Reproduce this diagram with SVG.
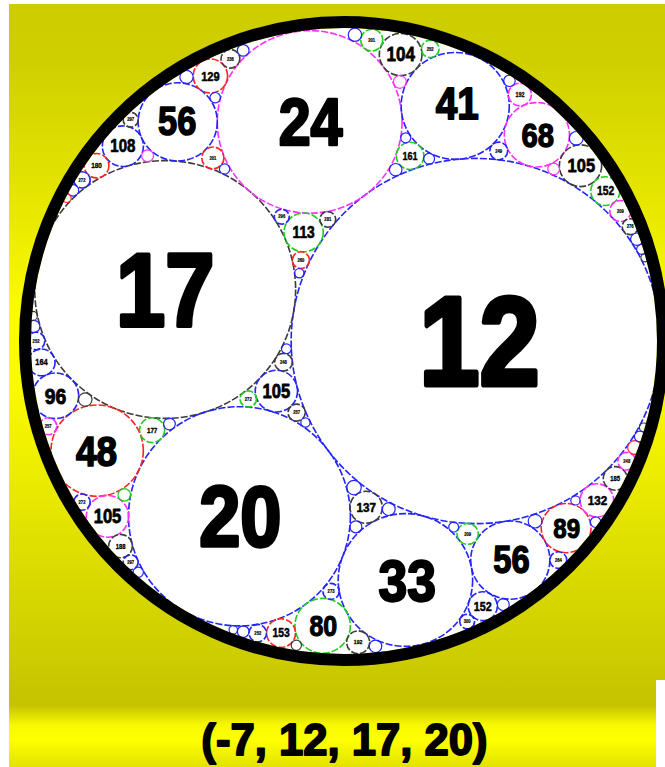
<svg xmlns="http://www.w3.org/2000/svg" width="665" height="767" viewBox="0 0 665 767">
<defs>
<linearGradient id="bg" x1="0" y1="0" x2="0" y2="767" gradientUnits="userSpaceOnUse">
<stop offset="0" stop-color="#cccc00"/>
<stop offset="0.078" stop-color="#cfcf00"/>
<stop offset="0.261" stop-color="#e6e600"/>
<stop offset="0.417" stop-color="#fdfd00"/>
<stop offset="0.495" stop-color="#fbfb00"/>
<stop offset="0.626" stop-color="#ebeb00"/>
<stop offset="0.756" stop-color="#d9d900"/>
<stop offset="0.861" stop-color="#cccc00"/>
<stop offset="0.919" stop-color="#c5c200"/>
<stop offset="0.945" stop-color="#f8f800"/>
<stop offset="0.965" stop-color="#ffff00"/>
<stop offset="1" stop-color="#e2e200"/>
</linearGradient>
<style>
.c{fill:none;stroke-width:1.6;stroke-dasharray:7 2}
.s{fill:none;stroke-width:1.2}
.b{stroke:#2424ff}.k{stroke:#3c3c3c}.m{stroke:#ff30ff}.r{stroke:#ff2424}.g{stroke:#1fcc1f}
text{font-family:"Liberation Sans",Arial,sans-serif;font-weight:700;text-anchor:middle;fill:#000;stroke:#000;stroke-linejoin:round}
</style>
</defs>
<rect x="0" y="0" width="665" height="767" fill="#fff"/>
<rect x="9" y="4" width="656" height="763" fill="url(#bg)"/>
<rect x="656" y="680" width="9" height="87" fill="#fff"/>
<circle cx="344" cy="341" r="313" fill="#fff"/>
<g id="gasket" transform="matrix(1.012 0 0 1 -4.128 0)">
<g id="n12"><circle class="c b" cx="474.4" cy="341" r="182.6"/><text transform="translate(478 385) scale(0.85 1)" font-size="126" stroke-width="5">12</text></g>
<g id="n17"><circle class="c k" cx="167.3" cy="289.5" r="128.9"/><text transform="translate(167.3 325.6) scale(0.85 1)" font-size="103" stroke-width="4">17</text></g>
<g id="n20"><circle class="c b" cx="240.7" cy="516.3" r="109.6"/><text transform="translate(241.5 546.1) scale(0.86 1)" font-size="85" stroke-width="3.4">20</text></g>
<g id="n24"><circle class="c m" cx="310.1" cy="121.9" r="91.3"/><text transform="translate(311 144.5) scale(0.86 1)" font-size="66" stroke-width="2.6">24</text></g>
<g id="n33"><circle class="c b" cx="404.7" cy="580" r="66.4"/><text transform="translate(406.5 600.5) scale(0.88 1)" font-size="58" stroke-width="2.3">33</text></g>
<g id="n48"><circle class="c r" cx="100.1" cy="450.6" r="45.6"/><text transform="translate(99.5 465.6) scale(0.85 1)" font-size="43" stroke-width="1.7">48</text></g>
<g id="n105c"><circle class="c b" cx="277.2" cy="391.1" r="20.9"/><text transform="translate(277.2 397.8) scale(0.85 1)" font-size="19.3" stroke-width="0.75">105</text></g>
<g id="n41"><circle class="c b" cx="453.9" cy="105.9" r="53.4"/><text transform="translate(456 118.8) scale(0.85 1)" font-size="45" stroke-width="1.8">41</text></g>
<g id="n56a"><circle class="c b" cx="179.7" cy="121.9" r="39.1"/><text transform="translate(179.2 135) scale(0.85 1)" font-size="40" stroke-width="1.6">56</text></g>
<g id="n113"><circle class="c g" cx="304.1" cy="232.4" r="19.4"/><text transform="translate(304.1 238) scale(0.85 1)" font-size="16" stroke-width="0.65">113</text></g>
<g id="n56b"><circle class="c b" cx="508.3" cy="560.1" r="39.1"/><text transform="translate(509.5 573.4) scale(0.85 1)" font-size="38" stroke-width="1.5">56</text></g>
<g id="n80"><circle class="c g" cx="322.9" cy="625.8" r="27.4"/><text transform="translate(323.5 636) scale(0.85 1)" font-size="29" stroke-width="1.15">80</text></g>
<g id="n137"><circle class="c k" cx="365.9" cy="507.3" r="16"/><text transform="translate(365.9 512.1) scale(0.85 1)" font-size="13.6" stroke-width="0.55">137</text></g>
<g id="n96"><circle class="c b" cx="59" cy="395.8" r="22.8"/><text transform="translate(59 403.7) scale(0.85 1)" font-size="22.5" stroke-width="0.9">96</text></g>
<g id="n105L"><circle class="c m" cx="110.3" cy="516.3" r="20.9"/><text transform="translate(110.3 523.1) scale(0.85 1)" font-size="19.3" stroke-width="0.75">105</text></g>
<g id="n177"><circle class="c g" cx="154.4" cy="430.1" r="12.4"/><text transform="translate(154.4 432.7) scale(0.85 1)" font-size="7.3" stroke-width="0.3">177</text></g>
<g id="n248c"><circle class="c k" cx="284.2" cy="362.2" r="8.8"/><text transform="translate(284.2 363.9) scale(0.85 1)" font-size="4.8" stroke-width="0.2">248</text></g>
<g id="n257c"><circle class="c k" cx="297.2" cy="412.6" r="8.5"/><text transform="translate(297.2 414.3) scale(0.85 1)" font-size="4.8" stroke-width="0.2">257</text></g>
<g id="n272c"><circle class="c g" cx="249.4" cy="399" r="8.1"/><text transform="translate(249.4 400.7) scale(0.85 1)" font-size="4.8" stroke-width="0.2">272</text></g>
<g id="n68"><circle class="c m" cx="534.6" cy="134.8" r="32.2"/><text transform="translate(535.5 146.7) scale(0.85 1)" font-size="34" stroke-width="1.35">68</text></g>
<g id="n104"><circle class="c k" cx="400" cy="54.5" r="21.1"/><text transform="translate(400 61.4) scale(0.85 1)" font-size="19.8" stroke-width="0.75">104</text></g>
<g id="n161"><circle class="c g" cx="409.3" cy="155.9" r="13.6"/><text transform="translate(409.3 159.6) scale(0.85 1)" font-size="10.5" stroke-width="0.4">161</text></g>
<g id="n108"><circle class="c b" cx="125.5" cy="146.2" r="20.3"/><text transform="translate(125.5 152.3) scale(0.85 1)" font-size="17.5" stroke-width="0.7">108</text></g>
<g id="n129"><circle class="c r" cx="212" cy="76" r="17"/><text transform="translate(212 80.5) scale(0.85 1)" font-size="12.9" stroke-width="0.5">129</text></g>
<g id="n201x"><circle class="c r" cx="214.4" cy="157.9" r="10.9"/><text transform="translate(214.4 159.6) scale(0.85 1)" font-size="4.8" stroke-width="0.2">201</text></g>
<g id="n260"><circle class="c r" cx="301.4" cy="260.1" r="8.4"/><text transform="translate(301.4 261.8) scale(0.85 1)" font-size="4.8" stroke-width="0.2">260</text></g>
<g id="n281"><circle class="c k" cx="328" cy="219.4" r="7.8"/><text transform="translate(328 221.1) scale(0.85 1)" font-size="4.8" stroke-width="0.2">281</text></g>
<g id="n296"><circle class="c b" cx="282.5" cy="216.7" r="7.4"/><text transform="translate(282.5 218.4) scale(0.85 1)" font-size="4.8" stroke-width="0.2">296</text></g>
<g id="n89"><circle class="c r" cx="563.5" cy="528.1" r="24.6"/><text transform="translate(564 537.9) scale(0.85 1)" font-size="28" stroke-width="1.1">89</text></g>
<g id="n152b"><circle class="c b" cx="481.1" cy="606.2" r="14.4"/><text transform="translate(481.1 610.6) scale(0.85 1)" font-size="12.5" stroke-width="0.5">152</text></g>
<g id="n209b"><circle class="c g" cx="466.2" cy="533.9" r="10.5"/><text transform="translate(466.2 535.6) scale(0.85 1)" font-size="4.8" stroke-width="0.2">209</text></g>
<g id="n153"><circle class="c r" cx="281.8" cy="633.1" r="14.3"/><text transform="translate(281.8 637.3) scale(0.85 1)" font-size="12" stroke-width="0.5">153</text></g>
<g id="n192b"><circle class="c k" cx="358" cy="642.3" r="11.4"/><text transform="translate(358 644.4) scale(0.85 1)" font-size="6" stroke-width="0.25">192</text></g>
<g id="n273"><circle class="c b" cx="331.2" cy="591.4" r="8"/><text transform="translate(331.2 593.1) scale(0.85 1)" font-size="4.8" stroke-width="0.2">273</text></g>
<g id="n164"><circle class="c b" cx="45.1" cy="362.4" r="13.4"/><text transform="translate(45.1 365.4) scale(0.85 1)" font-size="8.7" stroke-width="0.35">164</text></g>
<g id="n257L"><circle class="c m" cx="51.7" cy="426.3" r="8.5"/><text transform="translate(51.7 428) scale(0.85 1)" font-size="4.8" stroke-width="0.2">257</text></g>
<g id="n188"><circle class="c k" cx="123.2" cy="546.1" r="11.7"/><text transform="translate(123.2 548.5) scale(0.85 1)" font-size="6.8" stroke-width="0.3">188</text></g>
<g id="n272L"><circle class="c b" cx="85.1" cy="502.1" r="8.1"/><text transform="translate(85.1 503.8) scale(0.85 1)" font-size="4.8" stroke-width="0.2">272</text></g>
<g id="n105t"><circle class="c k" cx="577.7" cy="165.7" r="20.9"/><text transform="translate(578.5 172.4) scale(0.85 1)" font-size="19.1" stroke-width="0.75">105</text></g>
<g id="n192t"><circle class="c m" cx="517.8" cy="94.5" r="11.4"/><text transform="translate(517.8 96.7) scale(0.85 1)" font-size="6.3" stroke-width="0.25">192</text></g>
<g id="n249"><circle class="c b" cx="496.9" cy="150.9" r="8.8"/><text transform="translate(496.9 152.6) scale(0.85 1)" font-size="4.8" stroke-width="0.2">249</text></g>
<g id="n201s"><circle class="c g" cx="371.4" cy="40.1" r="10.9"/><text transform="translate(371.4 41.8) scale(0.85 1)" font-size="4.8" stroke-width="0.2">201</text></g>
<g id="n252t"><circle class="c g" cx="429.2" cy="48.9" r="8.7"/><text transform="translate(429.2 50.6) scale(0.85 1)" font-size="4.8" stroke-width="0.2">252</text></g>
<g id="n180"><circle class="c r" cx="99.5" cy="165.7" r="12.2"/><text transform="translate(99.5 168.3) scale(0.85 1)" font-size="7.5" stroke-width="0.3">180</text></g>
<g id="n297a"><circle class="c k" cx="133.2" cy="119.7" r="7.4"/><text transform="translate(133.2 121.4) scale(0.85 1)" font-size="4.8" stroke-width="0.2">297</text></g>
<g id="n236"><circle class="c k" cx="231.8" cy="58.8" r="9.3"/><text transform="translate(231.8 60.5) scale(0.85 1)" font-size="4.8" stroke-width="0.2">236</text></g>
<g id="n132"><circle class="c m" cx="593.9" cy="500.4" r="16.6"/><text transform="translate(594.5 505.2) scale(0.85 1)" font-size="13.6" stroke-width="0.55">132</text></g>
<g id="n264"><circle class="c b" cx="555.8" cy="560.1" r="8.3"/><text transform="translate(555.8 561.8) scale(0.85 1)" font-size="4.8" stroke-width="0.2">264</text></g>
<g id="n300"><circle class="c b" cx="465.7" cy="621.5" r="7.3"/><text transform="translate(465.7 623.2) scale(0.85 1)" font-size="4.8" stroke-width="0.2">300</text></g>
<g id="n252b"><circle class="c b" cx="258.8" cy="633.1" r="8.7"/><text transform="translate(258.8 634.8) scale(0.85 1)" font-size="4.8" stroke-width="0.2">252</text></g>
<g id="n152r"><circle class="c g" cx="602.2" cy="191.1" r="14.4"/><text transform="translate(602.5 195.3) scale(0.85 1)" font-size="12" stroke-width="0.5">152</text></g>
<g id="n209r"><circle class="c m" cx="617.2" cy="211" r="10.5"/><text transform="translate(617.2 212.7) scale(0.85 1)" font-size="4.8" stroke-width="0.2">209</text></g>
<g id="n185"><circle class="c k" cx="612" cy="478.4" r="11.8"/><text transform="translate(612 480.8) scale(0.85 1)" font-size="6.8" stroke-width="0.3">185</text></g>
<g id="n248r"><circle class="c m" cx="623.4" cy="461.2" r="8.8"/><text transform="translate(623.4 462.9) scale(0.85 1)" font-size="4.8" stroke-width="0.2">248</text></g>
<g id="n276"><circle class="c k" cx="626.8" cy="226.7" r="7.9"/><text transform="translate(626.8 228.4) scale(0.85 1)" font-size="4.8" stroke-width="0.2">276</text></g>
<g id="n297L"><circle class="c b" cx="133.2" cy="562.3" r="7.4"/><text transform="translate(133.2 564) scale(0.85 1)" font-size="4.8" stroke-width="0.2">297</text></g>
<g id="n252L"><circle class="c b" cx="39.7" cy="341" r="8.7"/><text transform="translate(39.7 342.7) scale(0.85 1)" font-size="4.8" stroke-width="0.2">252</text></g>
<g id="n272a"><circle class="c b" cx="85.1" cy="179.9" r="8.1"/><text transform="translate(85.1 181.6) scale(0.85 1)" font-size="4.8" stroke-width="0.2">272</text></g>
<g id="n305"><circle class="s b" cx="353.9" cy="487.6" r="7.2"/></g>
<g id="n344"><circle class="s b" cx="388.2" cy="509.1" r="6.4"/></g>
<g id="n368"><circle class="s b" cx="355.7" cy="526.8" r="6"/></g>
<g id="n329"><circle class="s k" cx="88.3" cy="399.6" r="6.7"/></g>
<g id="n353L"><circle class="s g" cx="126.9" cy="494.9" r="6.2"/></g>
<g id="n380"><circle class="s b" cx="171.5" cy="424" r="5.8"/></g>
<g id="n320"><circle class="s b" cx="573.5" cy="138.3" r="6.8"/></g>
<g id="n377t"><circle class="s m" cx="551.2" cy="169" r="5.8"/></g>
<g id="n353r"><circle class="s b" cx="633.4" cy="239.2" r="6.2"/></g>
<g id="n440r"><circle class="s b" cx="638.1" cy="249.4" r="5"/></g>
<g id="n537r"><circle class="s k" cx="641.5" cy="257.8" r="4.1"/></g>
<g id="n345"><circle class="s m" cx="399.2" cy="81.9" r="6.4"/></g>
<g id="n332t"><circle class="s b" cx="354.8" cy="34.8" r="6.6"/></g>
<g id="n353t"><circle class="s b" cx="395.1" cy="169.7" r="6.2"/></g>
<g id="n404t"><circle class="s b" cx="428.1" cy="158.8" r="5.4"/></g>
<g id="n440t"><circle class="s b" cx="405" cy="137.8" r="5"/></g>
<g id="n369a"><circle class="s m" cx="149.9" cy="155.8" r="5.9"/></g>
<g id="n384a"><circle class="s b" cx="76.2" cy="190.4" r="5.7"/></g>
<g id="n516"><circle class="s r" cx="70.2" cy="198.3" r="4.2"/></g>
<g id="n332a"><circle class="s b" cx="188.4" cy="77" r="6.6"/></g>
<g id="n425"><circle class="s b" cx="216.7" cy="97.7" r="5.2"/></g>
<g id="n377a"><circle class="s b" cx="244.4" cy="50.4" r="5.8"/></g>
<g id="n428"><circle class="s b" cx="226" cy="169" r="5.1"/></g>
<g id="n465"><circle class="s b" cx="299.8" cy="273.2" r="4.7"/></g>
<g id="n321b"><circle class="s b" cx="532.8" cy="521.2" r="6.8"/></g>
<g id="n321r"><circle class="s r" cx="631.1" cy="447.5" r="6.8"/></g>
<g id="n404r"><circle class="s b" cx="636.4" cy="436.5" r="5.4"/></g>
<g id="n497r"><circle class="s k" cx="640.3" cy="427.4" r="4.4"/></g>
<g id="n416"><circle class="s b" cx="592.7" cy="522.2" r="5.3"/></g>
<g id="n473b"><circle class="s b" cx="572.7" cy="500.4" r="4.6"/></g>
<g id="n369b"><circle class="s b" cx="501.4" cy="604.6" r="5.9"/></g>
<g id="n452"><circle class="s b" cx="452.4" cy="527.1" r="4.9"/></g>
<g id="n432b"><circle class="s k" cx="296.9" cy="645.3" r="5.1"/></g>
<g id="n377b"><circle class="s b" cx="244.4" cy="631.6" r="5.8"/></g>
<g id="n528b"><circle class="s b" cx="234.6" cy="629.8" r="4.2"/></g>
<g id="n356"><circle class="s b" cx="375.1" cy="646.3" r="6.2"/></g>
<g id="n360L"><circle class="s b" cx="37.4" cy="326.4" r="6.1"/></g>
<g id="n488L"><circle class="s k" cx="36.5" cy="315.9" r="4.5"/></g>
<g id="n432L"><circle class="s b" cx="140.7" cy="572.3" r="5.1"/></g>
<g id="n449"><circle class="s b" cx="287.1" cy="348.8" r="4.9"/></g>
<g id="n473c"><circle class="s b" cx="305.9" cy="422.5" r="4.6"/></g>
<g id="n384t"><circle class="s b" cx="507.5" cy="80.8" r="5.7"/></g>
</g>
<g id="outer"><circle cx="344" cy="341" r="319" fill="none" stroke="#000" stroke-width="12"/></g>
<g id="connectors"/>
<g id="caption"><text transform="translate(344.5 755) scale(0.97 1)" font-size="45" stroke-width="1.8">(-7, 12, 17, 20)</text></g>
</svg>
